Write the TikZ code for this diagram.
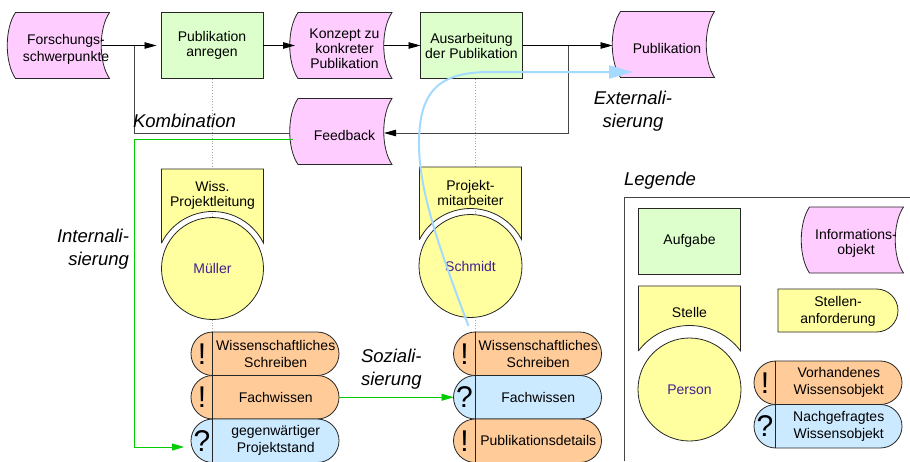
\documentclass[tikz,border=0pt]{standalone}
\usepackage{fontspec}
\setmainfont{Liberation Sans}
\usetikzlibrary{arrows.meta,calc}
\definecolor{taskgreen}{RGB}{221,255,204}
\definecolor{infopink}{RGB}{255,204,255}
\definecolor{stelleyellow}{RGB}{255,255,160}
\definecolor{knoworange}{RGB}{255,204,153}
\definecolor{knowblue}{RGB}{204,234,255}
\definecolor{personblue}{RGB}{64,32,140}
\definecolor{extblue}{RGB}{165,218,255}
\definecolor{socgreen}{RGB}{0,204,0}
\definecolor{edgegray}{RGB}{70,70,70}
\newcommand\infoobj[6]{%
  \draw[outline, fill=infopink] (#2-43,#3-33) -- (#2+51,#3-33)
     .. controls (#2+40,#3-17) and (#2+40,#3+17) .. (#2+51,#3+33)
     -- (#2-43,#3+33)
     .. controls (#2-54,#3+17) and (#2-54,#3-17) .. (#2-43,#3-33) -- cycle;
  \node[minimum width=102pt, minimum height=66pt] (#1) at (#2,#3) {};
  \node[txt] (#1-t) at (#2+#4,#3+#5) {#6};
}
\newcommand\stellebox[6]{%
  \pgfmathsetmacro\stA{acos(51/#5)}
  \pgfmathsetmacro\stY{#4-sqrt(#5*#5-51*51)}
  \draw[outline, fill=stelleyellow] (#2-51,\stY) -- (#2-51,#3) -- (#2+51,#3) -- (#2+51,\stY)
     arc[start angle=-\stA, end angle=-180+\stA, radius=#5] -- cycle;
  \node[txt] (#1) at (#2,#3+26) {#6};
}
\newcommand\knowobj[6]{%
  \node[know, fill=#4, anchor=north west] (#1) at (#2,#3) {};
  \draw[outline] ($(#1.north west)+(21.5,0)$) -- ($(#1.south west)+(21.5,0)$);
  \node[symb] (#1-s) at ($(#1.west)+(11,0)$) {#5};
  \node[ktxt] (#1-t) at ($(#1.center)+(10.75,0)$) {#6};
}
\begin{document}
\begin{tikzpicture}[x=1pt,y=-1pt,
  every node/.style={inner sep=0pt, outer sep=0pt, align=center},
  txt/.style={font=\fontsize{14}{15}\selectfont},
  ktxt/.style={font=\fontsize{14}{17}\selectfont},
  symb/.style={font=\fontsize{30}{30}\selectfont},
  lbl/.style={font=\fontsize{18.5}{23}\selectfont\itshape},
  outline/.style={draw=black!85, line width=0.8pt},
  taskbox/.style={outline, fill=taskgreen, minimum width=102pt, minimum height=66pt, txt},
  person/.style={outline, circle, fill=stelleyellow, minimum size=102pt, text=personblue, txt},
  know/.style={outline, rounded corners=21.7pt, minimum width=148pt, minimum height=43.5pt},
  flow/.style={draw=black, line width=0.9pt, -{Triangle[length=12pt,width=6.5pt]}},
  branch/.style={draw=edgegray, line width=0.9pt},
  gflow/.style={draw=socgreen, line width=0.9pt, -{Triangle[length=12pt,width=7pt]}},
  extflow/.style={draw=extblue, line width=2pt, -{Triangle[length=24pt,width=13pt]}},
  dotline/.style={draw=black!35, line width=0.8pt, dotted}
]
\useasboundingbox (0,0) rectangle (910,461);

% dotted lines (behind)
\coordinate (dl) at (212.5,332);
\coordinate (dr) at (475.5,332);
\draw[dotline] (212.5,79) -- (dl);
\draw[dotline] (475.5,79) -- (dr);

% top row
\infoobj{forsch}{58.5}{45.5}{7.5}{4}{Forschungs-\\[2.5pt]schwerpunkte}
\node[taskbox] (anregen) at (212,45.5) {Publikation\\anregen};
\infoobj{konzept}{341}{45.5}{3.5}{3.5}{Konzept zu\\konkreter\\Publikation}
\node[taskbox] (ausarb) at (471.5,45.5) {Ausarbeitung\\der Publikation};
\infoobj{publ}{663.5}{44.5}{3.5}{4}{Publikation}
\infoobj{feedback}{341}{131.5}{3.5}{3.5}{Feedback}

% connectors top
\coordinate (j1) at (134,45.5);
\coordinate (j2) at (568,45.5);
\draw[flow, shorten >=4.5pt] ($(forsch.east)+(-8,0)$) -- (anregen.west);
\draw[flow] (anregen.east) -- ($(konzept.west)+(5,0)$);
\draw[flow] ($(konzept.east)+(-8,0)$) -- (ausarb.west);
\draw[flow] (ausarb.east) -- (ausarb.east -| publ.west);
\draw[branch] (j1) |- ($(feedback.west)+(0,1.5)$);
\draw[branch] (j2) |- ($(feedback.east)+(-5,1.5)$);
\draw[flow] ($(feedback.east)+(-4,1.5)$) -- ($(feedback.east)+(-8,1.5)$);

% Stellen and persons
\stellebox{stl}{212.5}{169}{268.5}{57}{Wiss.\\Projektleitung}
\node[person] (mueller) at (212.5,268.5) {Müller};
\stellebox{str}{470.5}{167}{266}{57.5}{Projekt-\\mitarbeiter}
\node[person, minimum size=103pt] (schmidt) at (470.5,266) {Schmidt};

% knowledge objects
\knowobj{kl1}{191}{332}{knoworange}{!}{Wissenschaftliches\\Schreiben}
\knowobj{kl2}{191}{375.5}{knoworange}{!}{Fachwissen}
\knowobj{kl3}{191}{419}{knowblue}{?}{gegenwärtiger\\Projektstand}
\knowobj{kr1}{453.5}{332}{knoworange}{!}{Wissenschaftliches\\Schreiben}
\knowobj{kr2}{453.5}{375.5}{knowblue}{?}{Fachwissen}
\knowobj{kr3}{453.5}{419}{knoworange}{!}{Publikationsdetails}

% green connectors
\coordinate (gc) at (134.5,447);
\draw[gflow, shorten >=7pt] ($(feedback.west)+(2.5,7.5)$) -| (gc) -- (gc -| kl3.west);
\draw[gflow] (kl2.east) -- (kr2.west);

% labels
\node[lbl, anchor=west] (kombi) at (133,121) {Kombination};
\node[lbl] (extern) at (633,111) {Externali-\\sierung};
\node[lbl, align=right, anchor=east] (intern) at (129,249) {Internali-\\sierung};
\node[lbl, align=left, anchor=west] (sozial) at (361,369) {Soziali-\\sierung};

% legend
\node[lbl, anchor=west] (legende) at (624,181) {Legende};
\draw[edgegray, line width=0.9pt] (624,461) -- (624,197) -- (910,197);
\node[taskbox, minimum height=66pt] (lgtask) at (689.5,241) {Aufgabe};
\infoobj{lginfo}{852.5}{240}{3.5}{3.5}{Informations-\\objekt}
\stellebox{lgstelle}{689.5}{286}{389.5}{64}{Stelle}
\node[person, minimum size=103pt] (lgperson) at (689.5,389.5) {Person};
\draw[outline, fill=stelleyellow] (778,289) -- (876.5,289) arc[start angle=-90, end angle=90, radius=21.5] -- (778,332) -- cycle;
\node[ktxt] (lgreq) at (838,311) {Stellen-\\anforderung};
\knowobj{lgk1}{754}{361}{knoworange}{!}{Vorhandenes\\Wissensobjekt}
\knowobj{lgk2}{754}{404.5}{knowblue}{?}{Nachgefragtes\\Wissensobjekt}

% externalisation curve
\coordinate (extS) at ($(kr1.north west)+(15,-6)$);
\coordinate (extE) at ($(publ.center)+(-30.5,27.5)$);
\draw[extflow] (extS) .. controls (440,250) and (418,190) .. (419,140)
   .. controls (420,90) and (440,72) .. (490,72) -- (extE);
\end{tikzpicture}
\end{document}
